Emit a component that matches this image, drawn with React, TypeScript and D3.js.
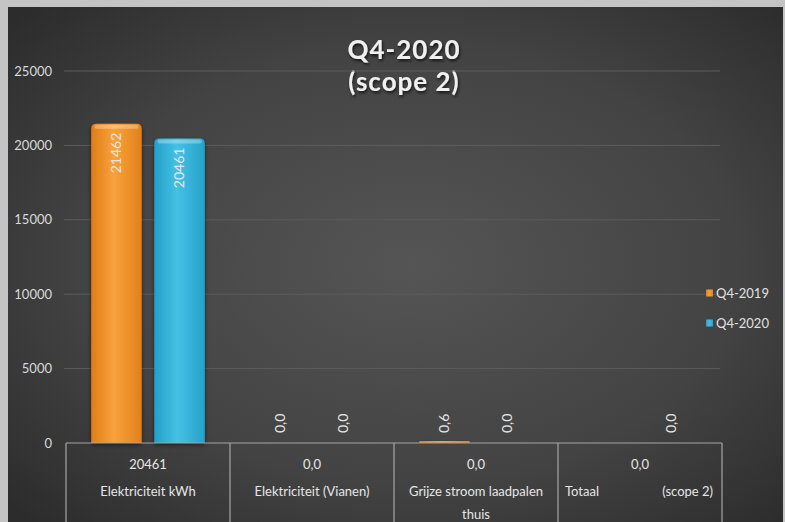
import { useEffect } from "react"
import * as d3 from "d3"

const categories = ["Elektriciteit kWh", "Elektriciteit (Vianen)", "Grijze stroom laadpalen thuis", "Totaal (scope 2)"]
const categoryLines = [["Elektriciteit kWh"], ["Elektriciteit (Vianen)"], ["Grijze stroom laadpalen", "thuis"], ["Totaal", "(scope 2)"]]
const tableValues = ["20461", "0,0", "0,0", "0,0"]
const seriesNames = ["Q4-2019", "Q4-2020"]
const q42019: (number | null)[] = [21462, 0, 0.6, null]
const q42020: (number | null)[] = [20461, 0, 0, 0]
const yTicks = [0, 5000, 10000, 15000, 20000, 25000]

const W = 785
const H = 522
const font = "Lato, 'Open Sans', sans-serif"

const fmt = (v: number) => (v >= 100 ? String(Math.round(v)) : v.toFixed(1).replace(".", ","))

export default function App() {
  useEffect(() => {
    document.body.style.margin = "0"
  }, [])

  const y = d3.scaleLinear().domain([0, 25000]).range([443, 71])
  const x = d3.scaleBand<string>().domain(categories).range([66, 722]).padding(0)
  const xs = d3.scaleBand<string>().domain(seriesNames).range([0, x.bandwidth()]).paddingInner(0.2).paddingOuter(0.4)

  const series = [q42019, q42020]

  return (
    <svg width={W} height={H} style={{ display: "block", fontFamily: font }}>
      <defs>
        <radialGradient id="bg" cx="0.52" cy="0.5" r="0.7">
          <stop offset="0" stopColor="#555555" />
          <stop offset="0.6" stopColor="#434343" />
          <stop offset="1" stopColor="#2c2c2c" />
        </radialGradient>
        <linearGradient id="g0" x1="0" x2="1" y1="0" y2="0">
          <stop offset="0" stopColor="#e07d16" />
          <stop offset="0.45" stopColor="#f8a23c" />
          <stop offset="1" stopColor="#e2801a" />
        </linearGradient>
        <linearGradient id="g1" x1="0" x2="1" y1="0" y2="0">
          <stop offset="0" stopColor="#23a0c8" />
          <stop offset="0.45" stopColor="#45c1e4" />
          <stop offset="1" stopColor="#25a2ca" />
        </linearGradient>
        <filter id="ts" x="-20%" y="-20%" width="140%" height="140%">
          <feDropShadow dx="1" dy="2" stdDeviation="1.5" floodColor="#000" floodOpacity="0.7" />
        </filter>
        <filter id="bs" x="-30%" y="-10%" width="160%" height="130%">
          <feDropShadow dx="0" dy="2" stdDeviation="2" floodColor="#000" floodOpacity="0.5" />
        </filter>
      </defs>
      <rect width={W} height={H} fill="#c4c4c4" />
      <rect x={8} y={7} width={W - 10} height={H - 7} fill="url(#bg)" />

      {/* title */}
      <g fill="#f0f0f0" fontSize={26} fontWeight={700} textAnchor="middle" filter="url(#ts)" letterSpacing={1}>
        <text x={404} y={59}>Q4-2020</text>
        <text x={404} y={91}>(scope 2)</text>
      </g>

      {/* grid + y axis */}
      {yTicks.map((t) => (
        <g key={t}>
          {t > 0 && <line x1={64} x2={720} y1={y(t)} y2={y(t)} stroke="#5c5c5c" strokeWidth={1} />}
          <text x={52} y={y(t)} dy="0.35em" textAnchor="end" fill="#d9d9d9" fontSize={13}>
            {t}
          </text>
        </g>
      ))}

      {/* bars */}
      {categories.map((c, ci) =>
        series.map((s, si) => {
          const v = s[ci]
          if (v === null) return null
          const bx = (x(c) ?? 0) + (xs(seriesNames[si]) ?? 0)
          const bw = xs.bandwidth()
          const top = y(v)
          const h = Math.max(y(0) - top, v > 0 ? 2 : 0)
          const cx = bx + bw / 2
          const labelY = v >= 1000 ? top + 9 : y(0) - 10
          return (
            <g key={`${ci}-${si}`}>
              {h > 0 && (
                <g filter="url(#bs)">
                  <path
                    d={
                      h > 8
                        ? `M${bx},${y(0)}V${y(0) - h + 5}Q${bx},${y(0) - h} ${bx + 5},${y(0) - h}H${bx + bw - 5}Q${bx + bw},${y(0) - h} ${bx + bw},${y(0) - h + 5}V${y(0)}Z`
                        : `M${bx},${y(0)}V${y(0) - h}H${bx + bw}V${y(0)}Z`
                    }
                    fill={`url(#g${si})`}
                  />
                  {h > 8 && (
                    <rect x={bx + 3} y={y(0) - h + 1} width={bw - 6} height={4} rx={2} fill="#fff" opacity={0.3} />
                  )}
                </g>
              )}
              <text
                transform={`translate(${cx},${labelY}) rotate(-90)`}
                textAnchor={v >= 1000 ? "end" : "start"}
                dy="0.35em"
                fill="#e6e6e6"
                fontSize={14}
              >
                {fmt(v)}
              </text>
            </g>
          )
        })
      )}

      {/* data table */}
      <g stroke="#a6a6a6" strokeWidth={1.2}>
        <line x1={66} x2={722} y1={y(0)} y2={y(0)} />
        {[...categories.map((c) => x(c) ?? 0), 722].map((px, i) => (
          <line key={i} x1={px} x2={px} y1={y(0)} y2={H} />
        ))}
      </g>
      <g fill="#e6e6e6" fontSize={13} textAnchor="middle">
        {categories.map((c, ci) => {
          const cx = (x(c) ?? 0) + x.bandwidth() / 2
          const lines = categoryLines[ci]
          return (
            <g key={c}>
              <text x={cx} y={464} dy="0.35em">{tableValues[ci]}</text>
              {ci === 3 ? (
                <>
                  <text x={(x(c) ?? 0) + 7} y={491} dy="0.35em" textAnchor="start">{lines[0]}</text>
                  <text x={(x(c) ?? 0) + x.bandwidth() - 9} y={491} dy="0.35em" textAnchor="end">{lines[1]}</text>
                </>
              ) : (
                lines.map((l, li) => (
                  <text key={li} x={cx} y={491 + li * 23} dy="0.35em">{l}</text>
                ))
              )}
            </g>
          )
        })}
      </g>

      {/* legend */}
      {seriesNames.map((n, i) => (
        <g key={n} transform={`translate(706,${293 + i * 30})`}>
          <rect x={0} y={-3.5} width={7} height={7} fill={`url(#g${i})`} />
          <text x={10} y={0} dy="0.35em" fill="#e0e0e0" fontSize={13}>{n}</text>
        </g>
      ))}
    </svg>
  )
}
